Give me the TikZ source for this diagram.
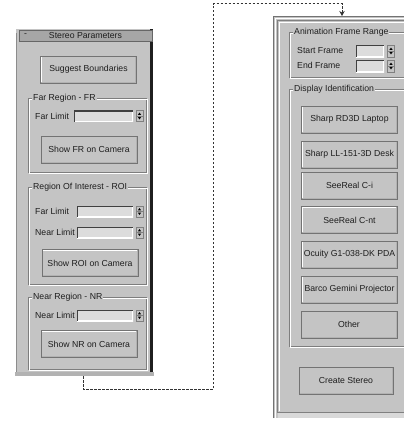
\documentclass[tikz,border=0pt]{standalone}
\usepackage{fontspec}
\setmainfont{Liberation Sans}
\usetikzlibrary{arrows.meta}
\definecolor{panelbg}{HTML}{C4C4C4}
\definecolor{titlebg}{HTML}{A6A6A6}
\definecolor{editbg}{HTML}{DCDCDC}
\definecolor{etch}{HTML}{7E7E7E}
\definecolor{txt}{HTML}{1E1E1E}
\begin{document}
\begin{tikzpicture}[x=1pt,y=-1pt,
  ui/.style={font=\fontsize{8.7}{10}\selectfont, text=txt},
  btn/.style={ui, draw=black!55, fill=panelbg, line width=0.8pt, inner sep=0pt,
    minimum width=96pt, minimum height=27pt,
    path picture={
      \draw[white, line width=2.4pt] (path picture bounding box.south west) -- (path picture bounding box.north west) -- (path picture bounding box.north east);
      \draw[black!30, line width=2.4pt] (path picture bounding box.south west) -- (path picture bounding box.south east) -- (path picture bounding box.north east);}},
  editbox/.style={fill=editbg, inner sep=0pt, minimum height=11pt,
    path picture={
      \draw[white, line width=1.6pt] (path picture bounding box.south west) -- (path picture bounding box.south east) -- (path picture bounding box.north east);
      \draw[black!75, line width=2pt] (path picture bounding box.south west) -- (path picture bounding box.north west) -- (path picture bounding box.north east);}},
  spin/.style={draw=black!50, fill=panelbg, line width=0.5pt, inner sep=0pt,
    minimum width=7pt, minimum height=11pt,
    path picture={
      \draw[black!50, line width=0.5pt] (path picture bounding box.west) -- (path picture bounding box.east);
      \fill[black] ([shift={(-1.6pt,1.2pt)}]path picture bounding box.center) -- ([shift={(1.6pt,1.2pt)}]path picture bounding box.center) -- ([shift={(0pt,3.4pt)}]path picture bounding box.center) -- cycle;
      \fill[black] ([shift={(-1.6pt,-1.2pt)}]path picture bounding box.center) -- ([shift={(1.6pt,-1.2pt)}]path picture bounding box.center) -- ([shift={(0pt,-3.4pt)}]path picture bounding box.center) -- cycle;}},
  glabel/.style={ui, anchor=west, fill=panelbg, inner xsep=1pt, inner ysep=0pt},
  flabel/.style={ui, anchor=west, inner sep=0pt},
  etchA/.style={draw=etch, line width=0.8pt},
  etchB/.style={draw=white, line width=0.8pt},
  conn/.style={draw=black!80, line width=0.8pt, dash pattern=on 2.5pt off 1.5pt},
]
\useasboundingbox[fill=white] (0,0) rectangle (404,421);

% ---------------- left panel ----------------
\node[fill=panelbg, minimum width=137pt, minimum height=343pt, inner sep=0pt] (lp) at (84.5,200.5) {};
\fill[black!88] (150,29) rectangle (153,372);
\fill[black!30] (15,372) rectangle (154,376);
\draw[black!45, line width=0.8pt] (16,33) -- (16,372);
\node[ui, fill=titlebg, draw=black!60, line width=0.6pt, minimum width=133pt, minimum height=11pt, inner sep=0pt] (tb) at (85.5,35.5) {Stereo Parameters};
\node[ui, inner sep=0pt] (tbmin) at (25.5,35) {-};

\node[btn] (bsug) at (88.5,69.5) {Suggest Boundaries};

% Far region
\draw[etchA] (28,98) rectangle (146,172);
\draw[etchB] (29,99) rectangle (147,173);
\node[glabel] (gfr) at (32,98) {Far Region - FR};
\node[flabel] (lfr) at (35,116) {Far Limit};
\node[editbox, minimum width=59pt] (efr) at (103.5,116) {};
\node[spin] (sfr) at (139.5,116) {};
\node[btn] (bfr) at (89,149.5) {Show FR on Camera};

% ROI
\draw[etchA] (28,187) rectangle (146,284);
\draw[etchB] (29,188) rectangle (147,285);
\node[glabel] (groi) at (32,187) {Region Of Interest - ROI};
\node[flabel] (lroif) at (35,211.5) {Far Limit};
\node[editbox, minimum width=56pt] (eroif) at (105,211.5) {};
\node[spin] (sroif) at (139.5,211.5) {};
\node[flabel] (lroin) at (35,232.5) {Near Limit};
\node[editbox, minimum width=56pt] (eroin) at (105,232.5) {};
\node[spin] (sroin) at (139.5,232.5) {};
\node[btn] (broi) at (90,263) {Show ROI on Camera};

% NR
\draw[etchA] (28,297) rectangle (146,369);
\draw[etchB] (29,298) rectangle (147,370);
\node[glabel] (gnr) at (32,297) {Near Region - NR};
\node[flabel] (lnr) at (35,315.5) {Near Limit};
\node[editbox, minimum width=56pt] (enr) at (105,315.5) {};
\node[spin] (snr) at (139.5,315.5) {};
\node[btn] (bnr) at (89,344) {Show NR on Camera};

% ---------------- right panel ----------------
\begin{scope}
\clip (0,0) rectangle (404,421);
\node[fill=panelbg, minimum width=150pt, minimum height=402pt, inner sep=0pt, anchor=north west] (rp) at (273,16) {};
\draw[black!55, line width=1pt] (273.5,418) |- (420,16.5);
\draw[white, line width=1pt] (275.5,418) |- (420,18.5);
\draw[black!50, line width=1pt] (277.5,412) |- (420,20.5);
\draw[white, line width=0.8pt] (279.5,411) |- (420,22.5);
\draw[black!50, line width=1pt] (277,412.5) -- (420,412.5);
\fill[black!15] (278,413) rectangle (420,418);

% Animation frame range
\draw[etchA] (289,32) rectangle (430,77);
\draw[etchB] (290,33) rectangle (431,78);
\node[glabel] (gani) at (293,32) {Animation Frame Range};
\node[flabel] (lsf) at (297,50.5) {Start Frame};
\node[editbox, minimum width=28pt, minimum height=12pt] (esf) at (370,51) {};
\node[spin, minimum height=12pt] (ssf) at (391,51) {};
\node[flabel] (lef) at (297,65.5) {End Frame};
\node[editbox, minimum width=28pt, minimum height=12pt] (eef) at (370,66) {};
\node[spin, minimum height=12pt] (sef) at (391,66) {};

% Display identification
\draw[etchA] (289,89) rectangle (430,346);
\draw[etchB] (290,90) rectangle (431,347);
\node[glabel] (gdisp) at (293,89) {Display Identification};
\begin{scope}[every node/.append style={minimum width=95pt, minimum height=26pt}]
\node[btn] (b1) at (349.5,119.5) {Sharp RD3D Laptop};
\node[btn] (b2) at (349.5,154.5) {Sharp LL-151-3D Desk};
\node[btn] (b3) at (349.5,185.5) {SeeReal C-i};
\node[btn] (b4) at (349.5,220) {SeeReal C-nt};
\node[btn] (b5) at (349.5,254.5) {Ocuity G1-038-DK PDA};
\node[btn] (b6) at (349.5,289.5) {Barco Gemini Projector};
\node[btn] (b7) at (349,324.5) {Other};
\end{scope}
\node[btn, minimum width=94pt] (bcs) at (346,380.5) {Create Stereo};
\end{scope}

% ---------------- connector ----------------
\coordinate (lpout) at (83,376);
\coordinate (rpin) at (342,16);
\draw[conn, -{Stealth[length=5pt,width=5.5pt]}] (lpout) |- (213,389) |- (342,3.5) -- (rpin);
\end{tikzpicture}
\end{document}
